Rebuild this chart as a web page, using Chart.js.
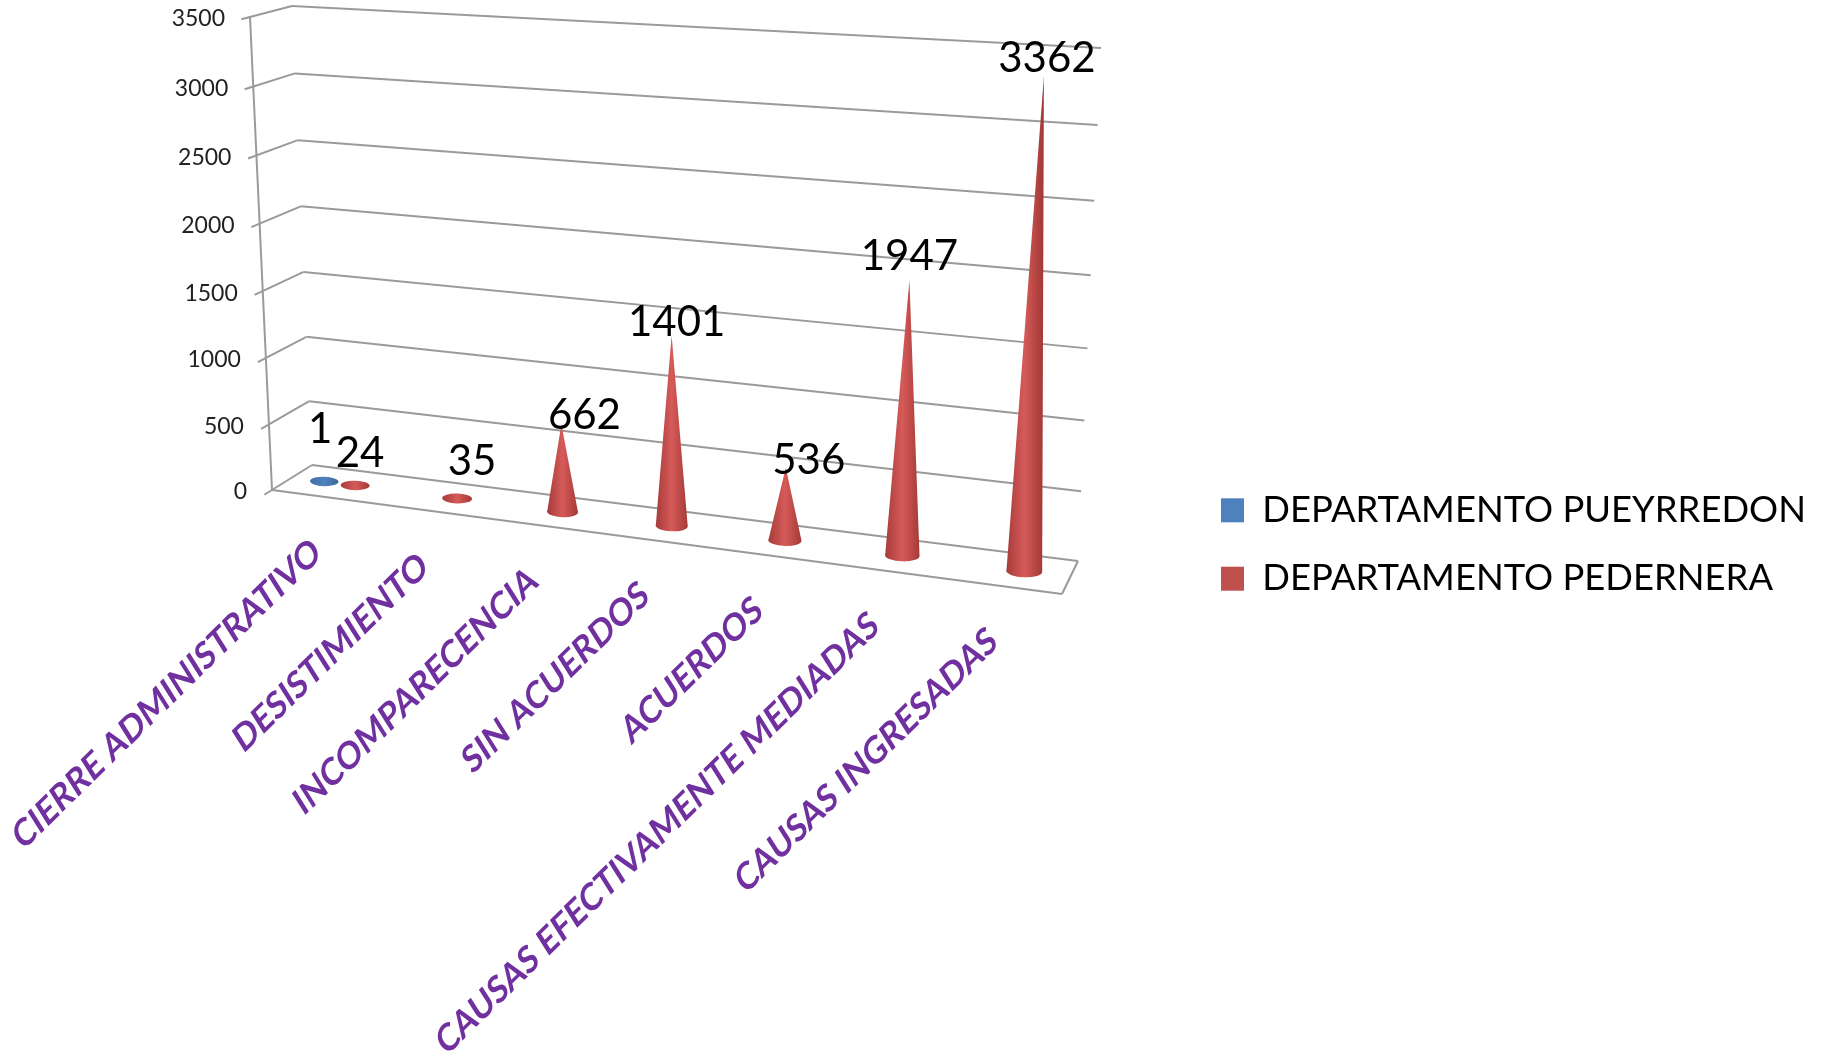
<!DOCTYPE html>
<html>
<head>
<meta charset="utf-8">
<title>Causas por departamento</title>
<script src="https://cdn.jsdelivr.net/npm/chart.js@4/dist/chart.umd.js"></script>
<style>
    html, body { margin: 0; padding: 0; background: #fff; }
    canvas { display: block; }
</style>
</head>
<body>
<canvas id="chart" width="1830" height="1057"></canvas>
<script>
// Datos
const categorias = ['CIERRE ADMINISTRATIVO', 'DESISTIMIENTO', 'INCOMPARECENCIA', 'SIN ACUERDOS',
    'ACUERDOS', 'CAUSAS EFECTIVAMENTE MEDIADAS', 'CAUSAS INGRESADAS'];
const pueyrredon = [1, null, null, null, null, null, null];
const pedernera = [24, 35, 662, 1401, 536, 1947, 3362];
const marcasEje = [0, 500, 1000, 1500, 2000, 2500, 3000, 3500];

// Ajuste manual de las etiquetas, como en el original
const ajustePueyrredon = [[-4, -52]];
const ajustePedernera = [[5, -29], [15, -33], [23, -9], [5, -13], [23, -7], [0, -23], [3, -17]];

const GRIS = '#9a9a9a';
const FUENTE = 'Lato, "Open Sans", sans-serif';

// Esquinas de la caja 3D en pantalla
const sueloFI = { x: 272, y: 490 }, sueloFD = { x: 1062, y: 594 };
const sueloAI = { x: 312, y: 465 }, sueloAD = { x: 1078, y: 561 };
const muroAI = { x: 292, y: 6 }, muroAD = { x: 1101, y: 48 };
const muroFI = { x: 250, y: 17 };

// Proyeccion del cuadrado unidad a un cuadrilatero
function cuadrilatero(p00, p10, p01, p11) {
    const dx1 = p10.x - p11.x, dx2 = p01.x - p11.x, sx = p00.x - p10.x + p11.x - p01.x;
    const dy1 = p10.y - p11.y, dy2 = p01.y - p11.y, sy = p00.y - p10.y + p11.y - p01.y;
    const den = dx1 * dy2 - dx2 * dy1;
    const g = (sx * dy2 - dx2 * sy) / den, h = (dx1 * sy - sx * dy1) / den;
    const a = p10.x - p00.x + g * p10.x, b = p01.x - p00.x + h * p01.x;
    const d = p10.y - p00.y + g * p10.y, e = p01.y - p00.y + h * p01.y;
    return (s, t) => {
        const w = g * s + h * t + 1;
        return { x: (a * s + b * t + p00.x) / w, y: (d * s + e * t + p00.y) / w };
    };
}

const sueloPersp = cuadrilatero(sueloFI, sueloFD, sueloAI, sueloAD);
const muro = cuadrilatero(sueloAI, sueloAD, muroAI, muroAD);
const lateral = cuadrilatero(sueloFI, sueloAI, muroFI, muroAI);

const PROFUNDIDAD = 0.5;

// El original reparte las categorias con menos fuga: mezcla con el reparto lineal
function suelo(s, d, mezcla) {
    const p = sueloPersp(s, d);
    const a = { x: sueloFI.x + (sueloAI.x - sueloFI.x) * d, y: sueloFI.y + (sueloAI.y - sueloFI.y) * d };
    const b = { x: sueloFD.x + (sueloAD.x - sueloFD.x) * d, y: sueloFD.y + (sueloAD.y - sueloFD.y) * d };
    return {
        x: p.x * (1 - mezcla) + (a.x + (b.x - a.x) * s) * mezcla,
        y: p.y * (1 - mezcla) + (a.y + (b.y - a.y) * s) * mezcla
    };
}

function linea(ctx, a, b) {
    ctx.beginPath();
    ctx.moveTo(a.x, a.y);
    ctx.lineTo(b.x, b.y);
    ctx.stroke();
}

function dibujarCaja(ctx, chart) {
    const y = chart.scales.y;
    const fracV = v => (y.bottom - y.getPixelForValue(v)) / (y.bottom - y.top);
    ctx.strokeStyle = GRIS;
    ctx.lineWidth = 2;
    marcasEje.forEach(v => {
        const t = fracV(v);
        const frente = lateral(0, t), fondo = lateral(1, t), dcha = muro(1, t);
        const dx = frente.x - fondo.x, dy = frente.y - fondo.y, n = Math.hypot(dx, dy);
        linea(ctx, { x: frente.x + dx / n * 9, y: frente.y + dy / n * 9 }, fondo);
        linea(ctx, fondo, dcha);
        ctx.fillStyle = '#222';
        ctx.font = '23px ' + FUENTE;
        ctx.textAlign = 'right';
        ctx.textBaseline = 'middle';
        ctx.fillText(String(v), frente.x - 25, frente.y + 2);
    });
    linea(ctx, sueloFI, muroFI);
    linea(ctx, sueloFI, sueloFD);
    linea(ctx, sueloFD, sueloAD);
}

function dibujarCono(ctx, base, apice, r, colores) {
    const g = ctx.createLinearGradient(base.x - r, 0, base.x + r, 0);
    g.addColorStop(0, colores[0]);
    g.addColorStop(0.5, colores[1]);
    g.addColorStop(1, colores[2]);
    ctx.fillStyle = g;
    ctx.beginPath();
    ctx.ellipse(base.x, base.y, r, r * 0.33, 0.03, 0, Math.PI * 2);
    ctx.fill();
    ctx.beginPath();
    ctx.moveTo(base.x - r, base.y);
    ctx.lineTo(apice.x, apice.y);
    ctx.lineTo(base.x + r, base.y);
    ctx.closePath();
    ctx.fill();
}

const coloresCono = [
    ['#3f6fa3', '#4f81bd', '#3a6a9e'],
    ['#a53c3a', '#d65b59', '#a53a38']
];
const ajustes = [ajustePueyrredon, ajustePedernera];

// Los conos salen de los elementos de barra que calcula la libreria
const conos3d = {
    id: 'conos3d',
    beforeDatasetDraw() {
        return false;
    },
    beforeDatasetsDraw(chart) {
        const ctx = chart.ctx, a = chart.chartArea;
        const u = px => (px - a.left) / (a.right - a.left) - 0.003;
        const v = py => (a.bottom - py) / (a.bottom - a.top);
        ctx.save();
        dibujarCaja(ctx, chart);

        const etiquetas = [];
        chart.data.datasets.forEach((ds, i) => {
            chart.getDatasetMeta(i).data.forEach((el, j) => {
                if (ds.data[j] === null) return;
                const s = u(el.x);
                const base = suelo(s, PROFUNDIDAD, 0.17);
                const w0 = muro(s, 0), w1 = muro(s, v(el.y));
                const k = 1.014;
                const apice = { x: base.x + (w1.x - w0.x) * k, y: base.y + (w1.y - w0.y) * k };
                const izq = suelo(u(el.x - el.width / 2), PROFUNDIDAD, 0.17);
                const der = suelo(u(el.x + el.width / 2), PROFUNDIDAD, 0.17);
                const r = Math.hypot(der.x - izq.x, der.y - izq.y) / 2;
                dibujarCono(ctx, base, apice, r, coloresCono[i]);
                const aj = ajustes[i][j];
                etiquetas.push({ t: String(ds.data[j]), x: apice.x + aj[0], y: apice.y + aj[1] });
            });
        });

        // Etiquetas de categoria giradas e inclinadas
        ctx.fillStyle = '#7030a0';
        ctx.font = 'bold 34.5px ' + FUENTE;
        ctx.textAlign = 'right';
        ctx.textBaseline = 'middle';
        categorias.forEach((c, j) => {
            const p = suelo(u(chart.scales.x.getPixelForValue(j)), 0, 0.55);
            ctx.save();
            ctx.translate(p.x - 6, p.y + 50);
            ctx.rotate(-44.5 * Math.PI / 180);
            ctx.transform(1, 0, -0.22, 1, 0, 0);
            ctx.fillText(c, 0, 0);
            ctx.restore();
        });

        ctx.fillStyle = '#000';
        ctx.font = '42px ' + FUENTE;
        ctx.textAlign = 'center';
        etiquetas.forEach(e => ctx.fillText(e.t, e.x, e.y));
        ctx.restore();
    }
};

new Chart(document.getElementById('chart'), {
    type: 'bar',
    data: {
        labels: categorias,
        datasets: [
            { label: 'DEPARTAMENTO PUEYRREDON', data: pueyrredon, backgroundColor: '#4f81bd' },
            { label: 'DEPARTAMENTO PEDERNERA', data: pedernera, backgroundColor: '#c0504d' }
        ]
    },
    options: {
        responsive: false,
        animation: false,
        devicePixelRatio: 1,
        categoryPercentage: 0.62,
        barPercentage: 0.92,
        layout: { padding: { top: 32, right: 14 } },
        plugins: {
            tooltip: { enabled: false },
            title: { display: false },
            legend: {
                position: 'right',
                labels: {
                    color: '#000',
                    boxWidth: 23,
                    boxHeight: 24,
                    padding: 32,
                    font: { family: FUENTE, size: 36.4 }
                }
            }
        },
        scales: {
            x: { display: false },
            y: {
                display: false,
                min: 0,
                max: 3500,
                afterBuildTicks: s => { s.ticks = marcasEje.map(value => ({ value })); }
            }
        }
    },
    plugins: [conos3d]
});
</script>
</body>
</html>
